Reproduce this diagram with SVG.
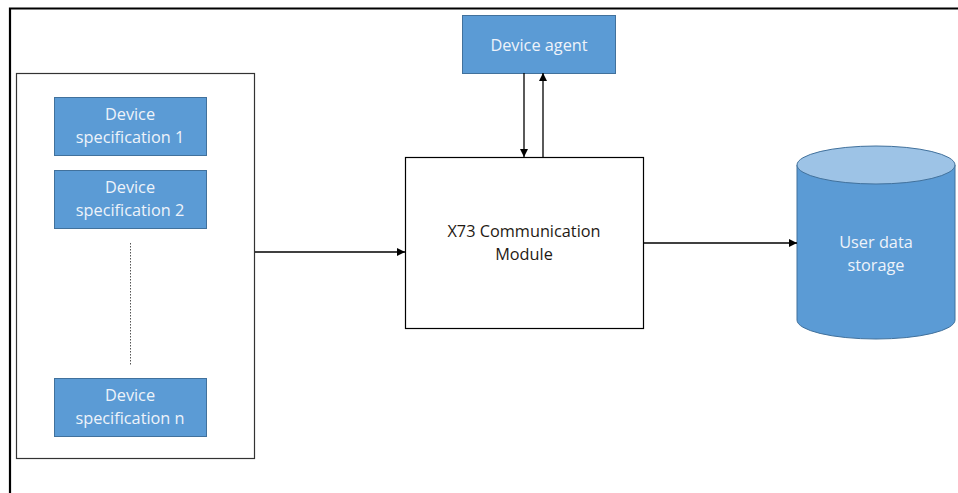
<svg xmlns="http://www.w3.org/2000/svg" width="958" height="493" viewBox="0 0 958 493">
  <style>
    .box { fill: #5b9bd5; stroke: #41719c; stroke-width: 1; }
    .lbl { font-family: "Open Sans", "Noto Sans", sans-serif; font-size: 16.3px; fill: #eef3fa; text-anchor: middle; }
    .dark { fill: #1f1a14; }
    .wire { stroke: #000; stroke-width: 1.3; fill: none; }
  </style>
  <defs>
    <marker id="arrow" viewBox="0 0 10 10" refX="10" refY="5" markerWidth="8" markerHeight="8" markerUnits="userSpaceOnUse" orient="auto">
      <path d="M0,0 L10,5 L0,10 z" fill="#000"/>
    </marker>
  </defs>

  <rect width="958" height="493" fill="#fff"/>

  <!-- outer frame (top and left edges only) -->
  <path d="M10,493 V8.5 H958" stroke="#000" stroke-width="2.2" fill="none"/>

  <!-- specification container -->
  <g id="spec-container">
    <rect x="16.5" y="73.5" width="238" height="385" fill="#fff" stroke="#333" stroke-width="1.2"/>
    <line x1="130.5" y1="243" x2="130.5" y2="366" stroke="#555" stroke-width="1" stroke-dasharray="1.5,1.5"/>
  </g>

  <g id="spec-1">
    <rect class="box" x="54.5" y="97.5" width="152" height="58"/>
    <text class="lbl" x="130" y="120">Device</text>
    <text class="lbl" x="130" y="143">specification 1</text>
  </g>

  <g id="spec-2">
    <rect class="box" x="54.5" y="170.5" width="152" height="58"/>
    <text class="lbl" x="130" y="193">Device</text>
    <text class="lbl" x="130" y="216">specification 2</text>
  </g>

  <g id="spec-n">
    <rect class="box" x="54.5" y="378.5" width="152" height="58"/>
    <text class="lbl" x="130" y="401">Device</text>
    <text class="lbl" x="130" y="424">specification n</text>
  </g>

  <g id="device-agent">
    <rect class="box" x="462.5" y="15.5" width="153" height="58"/>
    <text class="lbl" x="539" y="51">Device agent</text>
  </g>

  <g id="x73-module">
    <rect x="405.5" y="157.5" width="238" height="171" fill="#fff" stroke="#000" stroke-width="1.2"/>
    <text class="lbl dark" x="524" y="237">X73 Communication</text>
    <text class="lbl dark" x="524" y="260">Module</text>
  </g>

  <g id="user-storage">
    <path d="M797,165 V320 A79,19 0 0 0 955,320 V165 Z" fill="#5b9bd5" stroke="#41719c" stroke-width="1"/>
    <ellipse cx="876" cy="165" rx="79" ry="19" fill="#9dc3e6" stroke="#41719c" stroke-width="1"/>
    <text class="lbl" x="876" y="248">User data</text>
    <text class="lbl" x="876" y="271">storage</text>
  </g>

  <g id="connectors">
    <line class="wire" x1="255" y1="252" x2="405" y2="252" marker-end="url(#arrow)"/>
    <line class="wire" x1="524" y1="73" x2="524" y2="157" marker-end="url(#arrow)"/>
    <line class="wire" x1="543" y1="157" x2="543" y2="73" marker-end="url(#arrow)"/>
    <line class="wire" x1="644" y1="243" x2="797" y2="243" marker-end="url(#arrow)"/>
  </g>
</svg>
